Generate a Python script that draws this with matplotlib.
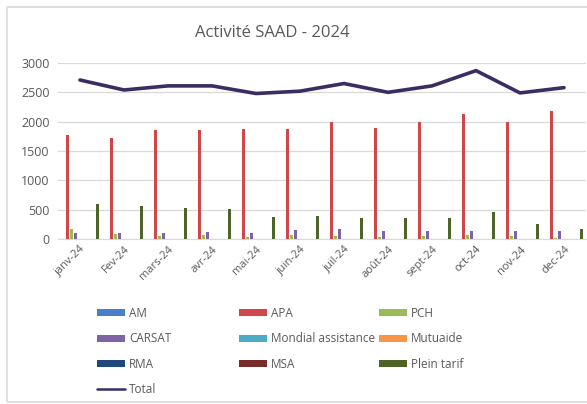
import matplotlib
matplotlib.use('Agg')
import matplotlib.pyplot as plt
import numpy as np
from matplotlib.patches import Rectangle

plt.rcParams['font.family'] = ['Open Sans', 'DejaVu Sans']

months = ["janv-24", "Fev-24", "mars-24", "avr-24", "mai-24", "juin-24",
          "juil-24", "août-24", "sept-24", "oct-24", "nov-24", "dec-24"]

am = [0, 0, 0, 0, 0, 0, 0, 0, 0, 0, 0, 0]
apa = [1780, 1720, 1850, 1850, 1880, 1870, 1990, 1890, 1990, 2130, 1990, 2180]
pch = [170, 80, 50, 70, 40, 60, 50, 40, 50, 60, 50, 20]
carsat = [100, 100, 110, 120, 110, 150, 170, 130, 140, 140, 130, 140]
mondial = [0, 0, 0, 0, 0, 0, 0, 0, 0, 0, 0, 0]
mutuaide = [0, 0, 0, 0, 0, 0, 0, 0, 0, 0, 0, 0]
rma = [0, 0, 0, 0, 0, 0, 0, 0, 0, 0, 0, 0]
msa = [0, 0, 0, 0, 0, 0, 0, 0, 0, 0, 0, 0]
plein_tarif = [590, 570, 530, 510, 370, 390, 360, 350, 350, 460, 260, 170]
total = [2710, 2540, 2610, 2610, 2480, 2520, 2650, 2500, 2610, 2870, 2490, 2580]

series = [
    ("AM", am, "#4A7EC8"),
    ("APA", apa, "#D0474A"),
    ("PCH", pch, "#9BBB59"),
    ("CARSAT", carsat, "#8064A2"),
    ("Mondial assistance", mondial, "#4BACC6"),
    ("Mutuaide", mutuaide, "#F79646"),
    ("RMA", rma, "#1F497D"),
    ("MSA", msa, "#772C2A"),
    ("Plein tarif", plein_tarif, "#4F6228"),
]

W, H = 587, 404
fig = plt.figure(figsize=(W / 100, H / 100), dpi=100)
fig.patches.append(Rectangle((7 / W, 2 / H), 1.0, (H - 9) / H,
                             transform=fig.transFigure, fill=False,
                             edgecolor="#D9D9D9", linewidth=1.2))

ax = fig.add_axes([58 / W, (H - 239) / H, (586 - 58) / W, (239 - 63) / H])

x = np.arange(len(months))
slot = 0.098
handles = {}
for i, (name, vals, col) in enumerate(series):
    offs = (i - 4) * slot
    handles[name] = ax.bar(x + offs, vals, width=slot * 0.72, color=col,
                           label=name, zorder=3)
line, = ax.plot(x, total, color="#3B2D62", linewidth=2.6, label="Total",
                zorder=4, solid_capstyle="round")
handles["Total"] = line

ax.set_xlim(-0.5, len(months) - 0.5)
ax.set_ylim(0, 3000)
ax.set_yticks(range(0, 3001, 500))
ax.grid(axis="y", color="#D9D9D9", linewidth=0.9, zorder=0)
for s in ["top", "right", "left"]:
    ax.spines[s].set_visible(False)
ax.spines["bottom"].set_color("#D9D9D9")
ax.tick_params(axis="both", length=0, colors="#595959")
ax.tick_params(axis="y", labelsize=9, pad=6)
ax.set_xticks(x)
ax.set_xticklabels(months, rotation=45, ha="right", rotation_mode="anchor",
                   fontsize=8)

fig.text(272 / W, 1 - 33 / H, "Activité SAAD - 2024", ha="center",
         va="center", fontsize=12, color="#595959")

# Excel lays the legend out row by row in fixed-width columns
columns = [
    (97, ["AM", "CARSAT", "RMA", "Total"]),
    (239, ["APA", "Mondial assistance", "MSA"]),
    (379, ["PCH", "Mutuaide", "Plein tarif"]),
]
for xpos, names in columns:
    leg = fig.legend([handles[n] for n in names], names, ncol=1,
                     loc="upper left", bbox_to_anchor=(xpos / W, 1 - 307 / H),
                     frameon=False, fontsize=8.5, handlelength=2.4,
                     handleheight=0.5, handletextpad=0.3, borderpad=0,
                     borderaxespad=0, labelspacing=1.05, labelcolor="#595959")
    for h in leg.legend_handles:
        if hasattr(h, "set_linewidth") and h.__class__.__name__ == "Line2D":
            h.set_linewidth(1.8)

fig.savefig("out.png", dpi=100)
